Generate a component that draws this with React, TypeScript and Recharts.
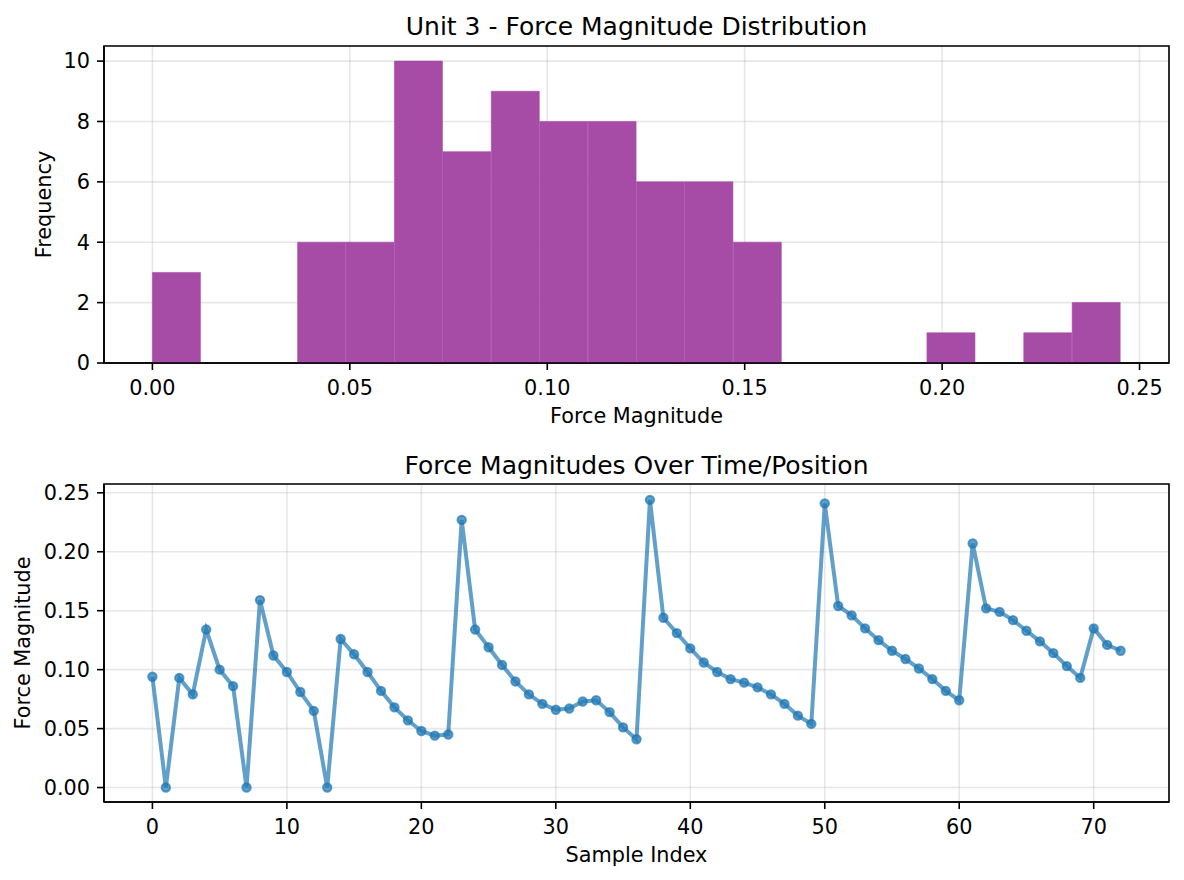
import React from 'react';
import { ComposedChart, Bar, Line, XAxis, YAxis, CartesianGrid, Label, ReferenceArea } from 'recharts';

// histogram bins (counts)
const binCounts = [3, 0, 0, 4, 4, 10, 7, 9, 8, 8, 6, 6, 4, 0, 0, 0, 1, 0, 1, 2];
const binLow = 0;
const binHigh = 0.2452;
const histXTicks = [0, 0.05, 0.1, 0.15, 0.2, 0.25];
const histYTicks = [0, 2, 4, 6, 8, 10];

// force magnitude per sample
const forceValues = [
  0.094, 0.0, 0.093, 0.079, 0.134, 0.1, 0.086, 0.0, 0.159, 0.112,
  0.098, 0.081, 0.065, 0.0, 0.126, 0.113, 0.098, 0.082, 0.068, 0.057,
  0.048, 0.044, 0.045, 0.227, 0.134, 0.119, 0.104, 0.09, 0.079, 0.071,
  0.066, 0.067, 0.073, 0.074, 0.064, 0.051, 0.041, 0.244, 0.144, 0.131,
  0.118, 0.106, 0.098, 0.092, 0.089, 0.085, 0.079, 0.071, 0.061, 0.054,
  0.241, 0.154, 0.146, 0.135, 0.125, 0.116, 0.109, 0.101, 0.092, 0.082,
  0.074, 0.207, 0.152, 0.149, 0.142, 0.133, 0.124, 0.114, 0.103, 0.093,
  0.135, 0.121, 0.116,
];
const sampleXTicks = [0, 10, 20, 30, 40, 50, 60, 70];
const forceYTicks = [0, 0.05, 0.1, 0.15, 0.2, 0.25];

const FONT = 'DejaVu Sans';
const TICK_FS = 20.8;
const TITLE_FS = 25;
const GRID = '#b0b0b0';
const SPINE = { stroke: '#000', strokeWidth: 1.6 };
const BAR_FILL = '#a64ca6'; // purple at alpha 0.7 on white

const histXDomain = [-0.01226, 0.25746];
const histYDomain = [0, 10.5];
const sampleXDomain = [-3.6, 75.6];
const forceYDomain = [-0.01226, 0.25746];

const binWidth = (binHigh - binLow) / binCounts.length;
const histData = binCounts.map((count, i) => ({
  center: binLow + binWidth * (i + 0.5),
  count,
}));
const lineData = forceValues.map((v, i) => ({ idx: i, force: v }));

const tickStyle = { fill: '#000', fontSize: TICK_FS, fontFamily: FONT };

const xLabel = (text: string) => (p: any) => {
  const vb = p.viewBox;
  return (
    <text x={vb.x + vb.width / 2} y={vb.y + 60} textAnchor="middle" fontSize={TICK_FS} fontFamily={FONT} fill="#000">
      {text}
    </text>
  );
};

const yLabel = (text: string, bx: number) => (p: any) => {
  const vb = p.viewBox;
  const cy = vb.y + vb.height / 2;
  return (
    <text transform={`translate(${bx}, ${cy}) rotate(-90)`} textAnchor="middle" fontSize={TICK_FS} fontFamily={FONT} fill="#000">
      {text}
    </text>
  );
};

const title = (text: string, off: number) => (p: any) => {
  const vb = p.viewBox;
  return (
    <text x={vb.x + vb.width / 2} y={vb.y - off} textAnchor="middle" fontSize={TITLE_FS} fontFamily={FONT} fill="#000">
      {text}
    </text>
  );
};

export default function App() {
  return (
    <div style={{ position: 'absolute', left: 0, top: 0, width: 1184, height: 880, background: '#fff', fontFamily: FONT }}>
      {/* histogram */}
      <ComposedChart width={1184} height={440} data={histData} margin={{ top: 46, right: 15, bottom: 0, left: 0 }} barCategoryGap={0} barGap={0}>
        <Bar dataKey="count" fill={BAR_FILL} stroke={BAR_FILL} strokeWidth={0.6} isAnimationActive={false} />
        <CartesianGrid stroke={GRID} strokeOpacity={0.3} strokeWidth={1.6} />
        <XAxis
          dataKey="center" type="number" domain={histXDomain} ticks={histXTicks} allowDataOverflow
          tickFormatter={(v: number) => v.toFixed(2)} interval={0} height={77}
          tickSize={7} tickMargin={10} axisLine={SPINE} tickLine={SPINE} tick={tickStyle}
        >
          <Label content={xLabel('Force Magnitude')} />
        </XAxis>
        <YAxis
          type="number" domain={histYDomain} ticks={histYTicks} allowDataOverflow width={104} interval={0}
          tickSize={7} tickMargin={7} axisLine={SPINE} tickLine={SPINE} tick={tickStyle}
        >
          <Label content={yLabel('Frequency', 51)} />
        </YAxis>
        <ReferenceArea
          x1={histXDomain[0]} x2={histXDomain[1]} y1={histYDomain[0]} y2={histYDomain[1]}
          fill="none" fillOpacity={0} stroke="#000" strokeWidth={1.6} strokeOpacity={1} ifOverflow="visible"
        >
          <Label content={title('Unit 3 - Force Magnitude Distribution', 11.5)} />
        </ReferenceArea>
      </ComposedChart>

      {/* force over samples */}
      <ComposedChart width={1184} height={440} data={lineData} margin={{ top: 44, right: 15, bottom: 0, left: 0 }}>
        <CartesianGrid stroke={GRID} strokeOpacity={0.3} strokeWidth={1.6} />
        <XAxis
          dataKey="idx" type="number" domain={sampleXDomain} ticks={sampleXTicks} allowDataOverflow interval={0} height={78}
          tickSize={7} tickMargin={10} axisLine={SPINE} tickLine={SPINE} tick={tickStyle}
        >
          <Label content={xLabel('Sample Index')} />
        </XAxis>
        <YAxis
          type="number" domain={forceYDomain} ticks={forceYTicks} allowDataOverflow width={104} interval={0}
          tickFormatter={(v: number) => v.toFixed(2)}
          tickSize={7} tickMargin={7} axisLine={SPINE} tickLine={SPINE} tick={tickStyle}
        >
          <Label content={yLabel('Force Magnitude', 29.5)} />
        </YAxis>
        <Line
          dataKey="force" type="linear" stroke="#1f77b4" strokeOpacity={0.7} strokeWidth={4}
          dot={{ r: 4.2, fill: '#1f77b4', fillOpacity: 0.7, stroke: '#1f77b4', strokeOpacity: 0.7, strokeWidth: 2 }}
          activeDot={false} isAnimationActive={false}
        />
        <ReferenceArea
          x1={sampleXDomain[0]} x2={sampleXDomain[1]} y1={forceYDomain[0]} y2={forceYDomain[1]}
          fill="none" fillOpacity={0} stroke="#000" strokeWidth={1.6} strokeOpacity={1} ifOverflow="visible"
        >
          <Label content={title('Force Magnitudes Over Time/Position', 10.5)} />
        </ReferenceArea>
      </ComposedChart>
    </div>
  );
}
